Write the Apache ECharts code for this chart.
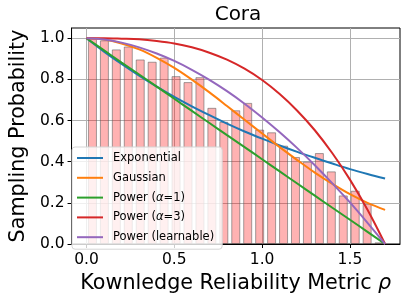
<!DOCTYPE html>
<html>
<head>
<meta charset="utf-8">
<script src="https://cdn.jsdelivr.net/npm/echarts@6/dist/echarts.min.js"></script>
<style>html,body{margin:0;padding:0;background:#fff}#c{width:407px;height:302px}</style>
</head>
<body>
<div id="c"></div>
<script>
// ---- data ----
var binCenters = [0.034, 0.102, 0.170, 0.238, 0.306, 0.374, 0.442, 0.510, 0.578, 0.646,
                  0.714, 0.782, 0.850, 0.918, 0.986, 1.054, 1.122, 1.190, 1.258, 1.326,
                  1.394, 1.462, 1.530, 1.598, 1.666];
var binValues = [1.000, 0.990, 0.946, 0.960, 0.897, 0.886, 0.906, 0.816, 0.787, 0.811,
                 0.662, 0.594, 0.650, 0.686, 0.556, 0.543, 0.478, 0.423, 0.400, 0.442,
                 0.353, 0.236, 0.259, 0.195, 0.008];
var rho = [0.0, 0.1, 0.2, 0.3, 0.4, 0.5, 0.6, 0.7, 0.8, 0.9,
           1.0, 1.1, 1.2, 1.3, 1.4, 1.5, 1.6, 1.7];
var expValues   = [1.000, 0.935, 0.875, 0.818, 0.765, 0.715, 0.669, 0.626, 0.585, 0.547,
                   0.512, 0.479, 0.448, 0.419, 0.391, 0.364, 0.340, 0.318];
var gaussValues = [1.000, 0.994, 0.975, 0.946, 0.905, 0.856, 0.799, 0.737, 0.671, 0.604,
                   0.537, 0.471, 0.408, 0.347, 0.292, 0.242, 0.200, 0.166];
var pow1Values  = [1.000, 0.941, 0.882, 0.824, 0.765, 0.706, 0.647, 0.588, 0.529, 0.471,
                   0.412, 0.353, 0.294, 0.235, 0.176, 0.118, 0.059, 0.000];
var pow3Values  = [1.000, 1.000, 0.998, 0.995, 0.987, 0.975, 0.956, 0.930, 0.896, 0.852,
                   0.797, 0.729, 0.648, 0.553, 0.441, 0.313, 0.166, 0.000];
var powLValues  = [1.000, 0.994, 0.979, 0.956, 0.926, 0.890, 0.847, 0.798, 0.743, 0.682,
                   0.615, 0.543, 0.466, 0.383, 0.295, 0.202, 0.103, 0.000];
var seriesNames = ['Exponential', 'Gaussian', 'Power (\u03b1=1)', 'Power (\u03b1=3)', 'Power (learnable)'];
var seriesColors = ['#1f77b4', '#ff7f0e', '#2ca02c', '#d62728', '#9467bd'];
var xTicks = [0.0, 0.5, 1.0, 1.5];
var yTicks = [0.0, 0.2, 0.4, 0.6, 0.8, 1.0];
var titleText = 'Cora';
var xLabelText = 'Kownledge Reliability Metric ';
var xLabelSymbol = '\u03c1';
var yLabel = 'Sampling Probability';

// ---- build ----
function pairs(xs, ys) { return xs.map(function (x, i) { return [x, ys[i]]; }); }
var lineSets = [expValues, gaussValues, pow1Values, pow3Values, powLValues];
var FONT = 'DejaVu Sans';

var series = [{
  type: 'bar',
  data: pairs(binCenters, binValues),
  barWidth: 9,
  itemStyle: { color: 'rgba(255,0,0,0.3)', borderColor: 'rgba(90,90,90,0.55)', borderWidth: 1 },
  z: 2,
  silent: true
}];
lineSets.forEach(function (vals, i) {
  series.push({
    type: 'line',
    name: seriesNames[i],
    data: pairs(rho, vals),
    smooth: 0.35,
    symbol: 'none',
    lineStyle: { color: seriesColors[i], width: 2 },
    itemStyle: { color: seriesColors[i] },
    z: 3
  });
});

var chart = echarts.init(document.getElementById('c'), null, { renderer: 'canvas' });
chart.setOption({
  animation: false,
  backgroundColor: '#fff',
  title: {
    text: titleText, left: 233, top: 0, textAlign: 'center',
    textStyle: { fontFamily: FONT, fontSize: 20, fontWeight: 'normal', color: '#000' }
  },
  grid: { left: 66, right: 7, top: 28, bottom: 58, show: true, borderColor: '#000', borderWidth: 1, backgroundColor: 'transparent' },
  legend: {
    data: seriesNames,
    orient: 'vertical',
    left: 72, top: 147,
    padding: [5, 8, 6, 4],
    itemWidth: 26, itemHeight: 10, itemGap: 7.8,
    itemStyle: { opacity: 0 },
    backgroundColor: 'rgba(255,255,255,0.8)',
    borderColor: '#d5d5d5', borderWidth: 1, borderRadius: 3,
    formatter: function (name) { return name.replace('\u03b1', '{i|\u03b1}'); },
    textStyle: { fontFamily: FONT, fontSize: 11.5, color: '#000', padding: [0, 0, 0, 5],
                 rich: { i: { fontFamily: FONT, fontSize: 11.5, fontStyle: 'italic', color: '#000' } } },
    z: 10
  },
  xAxis: {
    type: 'value', min: -0.085, max: 1.785,
    name: xLabelText + '{i|' + xLabelSymbol + '}', nameLocation: 'middle', nameGap: 28,
    nameTextStyle: { fontFamily: FONT, fontSize: 20.7, color: '#000',
                     rich: { i: { fontFamily: FONT, fontSize: 20.7, fontStyle: 'italic', color: '#000' } } },
    axisLine: { show: true, onZero: false, lineStyle: { color: '#000', width: 1 } },
    axisTick: { show: true, inside: false, length: 4, customValues: xTicks, lineStyle: { color: '#000' } },
    axisLabel: { customValues: xTicks, margin: 8, fontFamily: FONT, fontSize: 15.5, color: '#000',
                 formatter: function (v) { return v.toFixed(1); } },
    splitLine: { show: true, lineStyle: { color: '#b0b0b0', width: 1 } }
  },
  yAxis: {
    type: 'value', min: 0, max: 1.05,
    name: yLabel, nameLocation: 'middle', nameGap: 38,
    nameTextStyle: { fontFamily: FONT, fontSize: 20.7, color: '#000' },
    axisLine: { show: true, onZero: false, lineStyle: { color: '#000', width: 1 } },
    axisTick: { show: true, inside: false, length: 4, customValues: yTicks, lineStyle: { color: '#000' } },
    axisLabel: { customValues: yTicks, margin: 7, fontFamily: FONT, fontSize: 15.5, color: '#000',
                 formatter: function (v) { return v.toFixed(1); } },
    splitLine: { show: true, lineStyle: { color: '#b0b0b0', width: 1 } }
  },
  series: series
});
</script>
</body>
</html>
